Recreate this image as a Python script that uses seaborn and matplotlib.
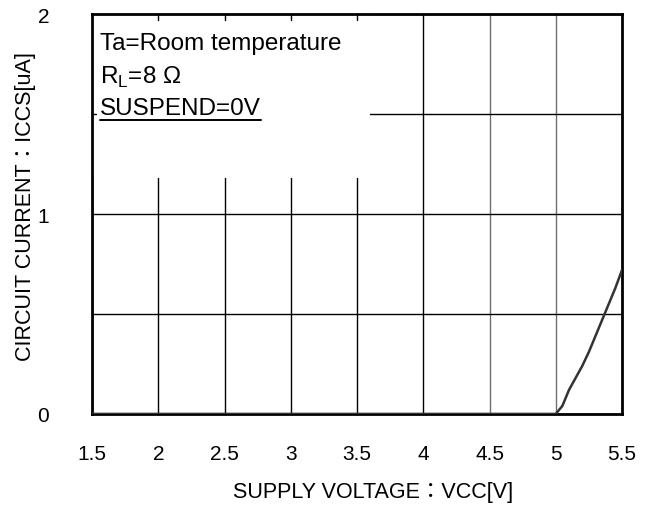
import matplotlib
matplotlib.use("Agg")
import matplotlib.pyplot as plt
import seaborn as sns
from matplotlib.patches import Rectangle
from matplotlib.lines import Line2D

# supply voltage [V] and circuit current [uA]
vcc = [1.5, 2.0, 2.5, 3.0, 3.5, 4.0, 4.5, 5.0, 5.05, 5.1, 5.15, 5.2, 5.25,
       5.3, 5.35, 5.4, 5.45, 5.5]
iccs = [0.0, 0.0, 0.0, 0.0, 0.0, 0.0, 0.0, 0.0, 0.04, 0.12, 0.18, 0.24, 0.31,
        0.39, 0.47, 0.55, 0.63, 0.72]

x_ticks = [1.5, 2, 2.5, 3, 3.5, 4, 4.5, 5, 5.5]
x_labels = ["1.5", "2", "2.5", "3", "3.5", "4", "4.5", "5", "5.5"]
y_ticks = [0, 1, 2]

sns.set_theme(style="white")
FONT = ["Liberation Sans", "Noto Sans CJK JP", "DejaVu Sans"]
plt.rcParams["font.family"] = FONT
plt.rcParams["text.color"] = "black"
plt.rcParams["axes.labelcolor"] = "black"

fig = plt.figure(figsize=(6.53, 5.06), dpi=100)
ax = fig.add_axes([0.141, 0.180, 0.8115, 0.790])

sns.lineplot(x=vcc, y=iccs, ax=ax, color="#333333", linewidth=1.8, zorder=3)

ax.set_xlim(1.5, 5.5)
ax.set_ylim(0, 2)
ax.set_xticks(x_ticks)
ax.set_xticklabels(x_labels)
ax.set_yticks(y_ticks)
ax.set_yticks([0.5, 1.5], minor=True)
ax.tick_params(axis="x", which="major", length=0, pad=22, labelsize=15, labelcolor="black")
ax.tick_params(axis="y", which="major", length=0, pad=31, labelsize=15, labelcolor="black")
ax.tick_params(axis="y", which="minor", length=0)

ax.set_axisbelow(True)
ax.grid(True, axis="y", which="both", color="black", linewidth=1.0)
ax.grid(True, axis="x", which="major", color="black", linewidth=1.0)
for pos, gl in zip(x_ticks, ax.xaxis.get_gridlines()):
    if pos >= 4.5:
        gl.set_color("#707070")

for s in ax.spines.values():
    s.set_color("black")
    s.set_linewidth(2.0)

# white panel behind the conditions text
ax.add_patch(Rectangle((0.0, 0.59), 0.525, 0.41, transform=ax.transAxes,
                       facecolor="white", edgecolor="none", zorder=1))
# small inward ticks on the frame where the panel hides the grid
for xt in [2, 2.5, 3, 3.5]:
    ax.plot([xt, xt], [2, 1.97], color="black", linewidth=1.0, zorder=2)
ax.plot([1.5, 1.53], [1.5, 1.5], color="black", linewidth=1.0, zorder=2)

ax.text(0.015, 0.928, "Ta=Room temperature", transform=ax.transAxes,
        fontsize=17.5, va="center", ha="left", zorder=4)
ax.text(0.015, 0.845, r"R$_\mathregular{L}$=8 Ω", transform=ax.transAxes,
        fontsize=17.5, va="center", ha="left", zorder=4)
t3 = ax.text(0.015, 0.765, "SUSPEND=0V", transform=ax.transAxes,
             fontsize=17.5, va="center", ha="left", zorder=4)

ax.set_xlabel("SUPPLY VOLTAGE：VCC[V]", fontsize=15.5, family=FONT)
ax.set_ylabel("CIRCUIT CURRENT：ICCS[uA]", fontsize=15.5, family=FONT)
ax.xaxis.set_label_coords(0.53, -0.168)
ax.yaxis.set_label_coords(-0.106, 0.52)

# underline the SUSPEND condition
fig.canvas.draw()
bb = t3.get_window_extent().transformed(fig.transFigure.inverted())
fig.add_artist(Line2D([bb.x0, bb.x1], [bb.y0 - 0.002, bb.y0 - 0.002],
                      transform=fig.transFigure, color="black", linewidth=1.4))

fig.savefig("out.png", dpi=100)
